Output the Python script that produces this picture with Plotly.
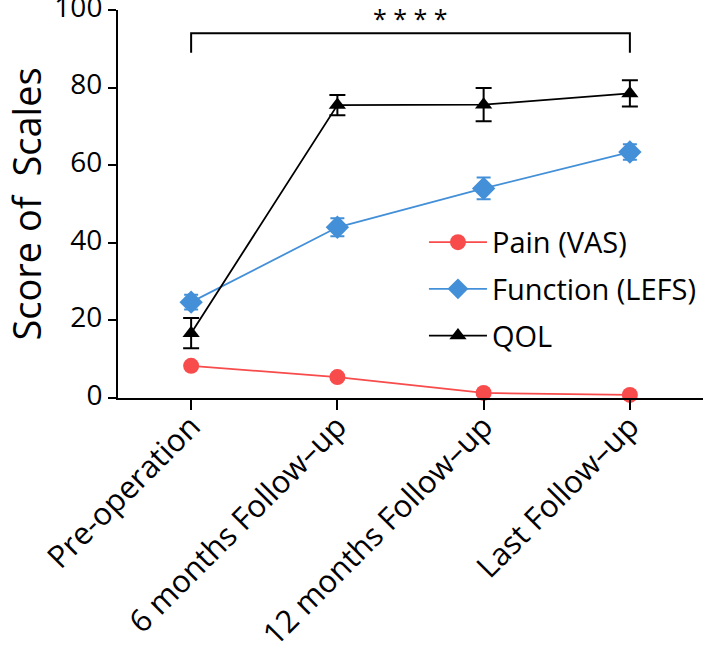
import plotly.graph_objects as go

categories = ["Pre-operation", "6 months Follow-up", "12 months Follow-up", "Last Follow-up"]
tick_text = ["Pre-operation", "6 months Follow\u2013up", "12 months Follow\u2013up", "Last Follow\u2013up"]
pain = [8.3, 5.4, 1.3, 0.8]
pain_err = [0.6, 0.6, 0.4, 0.3]
function = [24.7, 44.0, 54.0, 63.4]
function_err = [1.9, 2.3, 2.8, 2.0]
qol = [16.7, 75.5, 75.6, 78.5]
qol_err = [3.9, 2.6, 4.3, 3.4]
y_ticks = [0, 20, 40, 60, 80, 100]
y_title = "Score of\u00a0 Scales"

bracket_y = 94
bracket_drop = 5
sig_label = "* * * *"

FONT = "Open Sans"
RED = "#F84B4B"
BLUE = "#4390D8"

fig = go.Figure()
fig.add_trace(go.Scatter(
    x=categories, y=pain, name="Pain (VAS)", mode="lines+markers",
    line=dict(color=RED, width=1.8),
    marker=dict(symbol="circle", size=16, color=RED),
    error_y=dict(type="data", array=pain_err, color=RED, thickness=2, width=7),
    legendgroup="a", cliponaxis=False,
))
fig.add_trace(go.Scatter(
    x=categories, y=function, name="Function (LEFS)", mode="lines+markers",
    line=dict(color=BLUE, width=1.8),
    marker=dict(symbol="diamond", size=18, color=BLUE),
    error_y=dict(type="data", array=function_err, color=BLUE, thickness=2, width=7),
    legendgroup="b", cliponaxis=False,
))
fig.add_trace(go.Scatter(
    x=categories, y=qol, name="QOL", mode="lines+markers",
    line=dict(color="black", width=1.8),
    marker=dict(symbol="triangle-up", size=15, color="black"),
    error_y=dict(type="data", array=qol_err, color="black", thickness=2, width=8),
    legendgroup="c", cliponaxis=False,
))

# significance bracket between first and last category
fig.add_shape(type="path",
              path=f"M 0 {bracket_y - bracket_drop} L 0 {bracket_y} L 3 {bracket_y} L 3 {bracket_y - bracket_drop}",
              xref="x", yref="y", line=dict(color="black", width=2))
fig.add_annotation(x=1.5, y=bracket_y, xref="x", yref="y", text=sig_label,
                   showarrow=False, yanchor="bottom", yshift=-4,
                   font=dict(family=FONT, size=25, color="black"))

# y-axis title
fig.add_annotation(x=-0.158, y=0.5, xref="paper", yref="paper", text=y_title,
                   textangle=-90, showarrow=False, xanchor="center", yanchor="middle",
                   font=dict(family=FONT, size=38, color="black"))

fig.update_layout(
    width=703, height=650,
    margin=dict(l=118, r=0, t=10, b=252, autoexpand=False),
    plot_bgcolor="white", paper_bgcolor="white",
    font=dict(family=FONT, color="black"),
    showlegend=True,
    legend=dict(x=0.523, y=0.467, xanchor="left", yanchor="top",
                font=dict(family=FONT, size=29, color="black"),
                bgcolor="rgba(0,0,0,0)", tracegroupgap=6, itemwidth=58),
)
fig.update_xaxes(
    type="category", categoryorder="array", categoryarray=categories,
    tickvals=categories, ticktext=tick_text,
    range=[-0.5, 3.5], showline=True, linecolor="black", linewidth=2,
    ticks="outside", ticklen=10, tickwidth=2, tickcolor="black",
    tickangle=-45, tickfont=dict(family=FONT, size=31, color="black"),
    ticklabelstandoff=-14, ticklabeloverflow="allow",
    showgrid=False, zeroline=False, automargin=False,
)
fig.update_yaxes(
    range=[0, 100], tickvals=y_ticks, showline=True, linecolor="black", linewidth=2,
    ticks="outside", ticklen=8, tickwidth=2, tickcolor="black",
    tickfont=dict(family=FONT, size=28, color="black"), ticklabeloverflow="allow",
    ticklabelshift=-3,
    showgrid=False, zeroline=False, automargin=False,
)

fig.write_html("out.html",
               config={"displayModeBar": False},
               post_script="document.body.style.margin='0px'; document.body.style.overflow='hidden';")
